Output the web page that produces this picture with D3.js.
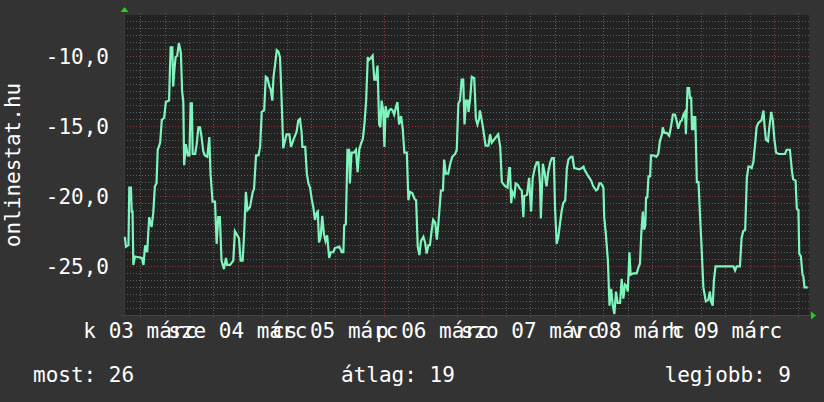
<!DOCTYPE html>
<meta charset="utf-8">

<head>
  <script src="https://d3js.org/d3.v7.min.js"></script>
  <style>
    body {
      margin: 0;
      background: #333333;
    }

    svg text {
      font-family: "DejaVu Sans Mono", monospace;
      font-size: 21px;
      fill: #ffffff;
    }
  </style>
</head>

<body>
  <script>

    // hours since 2009-03-03 00:00 and the rank (negative, best is on top)
    var hours = [
      8.2, 8.5, 9.1, 9.3, 9.7, 9.9, 10.1, 10.3, 10.7, 12.4, 12.8, 13.2, 13.7, 14.2, 14.8, 15.2, 15.6, 16.0, 16.3, 16.9,
      17.3, 17.9, 18.3, 19.1, 19.3, 19.5, 19.9, 20.1, 20.4, 20.7, 21.1, 21.5, 22.0, 22.3, 22.6, 22.8, 23.2, 23.7, 24.1, 24.4,
      24.7, 24.9, 25.5, 25.9, 26.3, 26.7, 27.1, 27.5, 27.9, 28.5, 29.0, 29.3, 29.8, 30.4, 30.8, 31.2, 31.6, 32.0, 32.6, 33.1,
      33.4, 34.1, 34.9, 35.3, 35.9, 36.3, 36.7, 37.2, 37.5, 38.0, 38.4, 39.0, 39.7, 40.0, 40.5, 41.1, 41.5, 41.9, 42.5, 42.9,
      43.3, 43.8, 44.1, 44.5, 44.8, 45.2, 45.6, 46.0, 46.4, 46.8, 47.2, 47.6, 48.0, 48.7, 49.1, 49.7, 50.5, 50.9, 51.3, 51.7,
      51.9, 52.6, 53.0, 53.4, 53.8, 54.2, 54.6, 55.0, 55.4, 55.7, 56.0, 56.4, 56.8, 57.2, 57.6, 58.0, 58.5, 58.9, 59.5, 59.9,
      61.0, 61.6, 62.0, 62.2, 62.6, 63.0, 63.4, 63.6, 64.0, 64.6, 65.1, 65.5, 65.9, 66.3, 66.8, 67.2, 67.6, 68.0, 68.3, 68.7,
      69.2, 69.6, 70.0, 70.4, 70.8, 71.1, 71.4, 71.8, 72.1, 72.4, 72.9, 73.3, 73.7, 74.1, 74.5, 74.9, 75.3, 75.7, 76.2, 76.6,
      77.0, 77.6, 78.0, 78.4, 79.0, 79.5, 79.9, 80.3, 80.7, 81.1, 81.7, 82.1, 82.5, 82.9, 83.3, 83.7, 84.1, 84.6, 85.0, 85.4,
      86.0, 86.5, 86.8, 87.2, 87.8, 88.3, 88.8, 89.5, 89.9, 90.3, 90.7, 91.1, 91.5, 91.8, 92.2, 92.6, 92.8, 93.2, 93.6, 94.2,
      94.4, 94.6, 95.0, 95.4, 95.6, 96.0, 96.4, 97.0, 97.7, 98.1, 98.5, 99.3, 100.1, 100.6, 101.0, 101.8, 102.4, 102.8, 103.0, 103.3,
      103.6, 104.1, 104.4, 104.9, 105.5, 105.9, 106.3, 106.5, 107.2, 107.7, 108.2, 108.6, 109.2, 109.6, 110.0, 110.4, 110.6, 111.1, 111.5, 112.0,
      112.4, 112.9, 113.3, 113.8, 114.1, 114.5, 114.9, 115.3, 115.7, 116.1, 116.6, 117.0, 117.4, 118.0, 118.4, 118.8, 120.1, 120.7, 121.1, 121.3,
      121.7, 122.3, 123.0, 123.5, 124.2, 124.6, 125.0, 125.4, 126.0, 126.2, 126.6, 127.1, 127.5, 127.9, 128.3, 128.7, 129.1, 129.5, 130.1, 130.5,
      130.9, 131.3, 131.7, 132.0, 132.4, 132.7, 133.4, 134.2, 134.6, 135.0, 135.3, 135.7, 136.0, 136.3, 136.5, 136.8, 137.1, 137.5, 137.7, 138.3,
      139.0, 139.5, 139.9, 140.4, 140.6, 141.0, 141.6, 142.2, 142.6, 143.1, 143.6, 144.0, 144.4, 144.9, 145.3, 145.7, 146.1, 146.3, 146.7, 147.1,
      147.3, 147.6, 147.8, 148.1, 148.4, 148.6, 149.0, 149.4, 149.8, 150.2, 150.6, 151.2, 151.8, 152.2, 152.5, 152.9, 153.2, 153.6, 158.0, 158.4,
      158.8, 159.6, 160.0, 160.4, 160.9, 161.3, 161.7, 162.1, 162.5, 162.9, 163.3, 163.7, 164.1, 164.5, 164.9, 165.4, 165.6, 166.0, 166.5, 166.8,
      167.3, 167.7, 168.1, 168.5, 169.1, 170.7, 171.1, 171.9, 172.4, 172.7, 173.3, 173.6, 174.0, 174.2, 174.6, 175.0, 175.2, 175.5, 176.3
    ];

    var rank = [
      -22.9, -23.6, -23.5, -19.4, -19.4, -21.1, -21.1, -24.9, -24.3, -24.4, -24.9, -23.5, -24.0, -21.5, -22.2, -21.2, -19.3, -19.1, -16.7, -16.2,
      -14.6, -14.4, -13.3, -13.2, -11.0, -9.4, -9.4, -12.2, -11.0, -10.1, -10.0, -9.1, -9.8, -12.5, -13.3, -17.8, -16.3, -17.1, -17.1, -13.4,
      -13.4, -17.0, -17.0, -16.3, -15.1, -15.1, -15.8, -16.8, -17.1, -17.2, -15.8, -18.4, -20.4, -20.4, -23.4, -21.5, -21.5, -24.6, -25.2, -24.4,
      -24.9, -24.9, -24.6, -22.5, -22.8, -23.0, -24.6, -24.6, -23.1, -19.7, -21.0, -20.8, -19.7, -19.5, -17.1, -17.1, -16.5, -14.0, -13.9, -11.5,
      -11.6, -12.2, -12.4, -13.2, -11.5, -10.6, -9.6, -9.7, -10.1, -13.2, -16.6, -16.1, -15.6, -15.6, -16.5, -16.0, -15.4, -14.6, -14.5, -15.4,
      -16.5, -16.5, -18.4, -19.1, -19.4, -20.2, -20.8, -21.7, -21.2, -21.1, -23.3, -22.9, -21.4, -22.7, -23.2, -22.8, -24.4, -24.0, -24.0, -23.7,
      -23.6, -24.0, -24.0, -22.1, -22.0, -16.7, -16.7, -19.1, -16.9, -16.9, -16.7, -18.3, -16.7, -16.3, -15.9, -14.8, -13.2, -10.1, -10.3, -10.2,
      -10.0, -11.7, -11.7, -10.7, -14.9, -15.1, -13.2, -13.9, -16.5, -13.6, -14.4, -13.9, -13.8, -13.9, -14.2, -13.7, -13.3, -14.9, -14.3, -15.2,
      -16.9, -16.9, -20.3, -19.7, -19.8, -20.2, -20.3, -23.6, -24.2, -23.2, -22.9, -23.3, -24.1, -23.5, -23.5, -22.5, -21.7, -21.9, -23.1, -21.9,
      -19.6, -19.6, -17.4, -18.4, -18.4, -17.7, -17.2, -17.0, -16.7, -13.4, -13.2, -11.7, -11.7, -14.9, -13.2, -13.2, -14.0, -13.1, -11.5, -11.6,
      -12.9, -14.5, -14.9, -14.5, -13.9, -14.5, -15.2, -16.4, -16.4, -15.6, -16.2, -15.9, -15.6, -16.5, -19.0, -19.3, -19.4, -18.0, -18.0, -20.5,
      -19.7, -20.0, -19.1, -19.2, -19.5, -19.6, -21.5, -20.0, -19.9, -18.7, -21.1, -18.7, -17.9, -17.6, -17.6, -19.1, -21.6, -17.7, -18.3, -19.3,
      -18.3, -17.6, -17.3, -17.3, -20.9, -23.4, -22.9, -22.0, -21.1, -20.5, -20.3, -18.0, -17.4, -17.2, -17.2, -18.0, -18.1, -18.0, -17.9, -18.1,
      -18.3, -18.6, -18.9, -19.3, -19.6, -19.5, -19.1, -19.1, -19.4, -21.5, -22.7, -24.6, -27.8, -26.6, -27.8, -28.4, -26.8, -27.6, -27.6, -25.9,
      -27.3, -26.3, -26.4, -26.8, -24.0, -25.6, -25.5, -25.5, -25.1, -24.8, -22.8, -21.1, -22.4, -22.1, -20.1, -20.1, -18.6, -18.6, -17.1, -17.1,
      -17.2, -17.0, -16.1, -15.6, -15.1, -15.5, -15.5, -15.7, -15.1, -14.2, -14.2, -14.6, -15.2, -14.7, -14.6, -14.2, -14.0, -15.6, -12.3, -12.3,
      -13.0, -13.0, -15.3, -14.3, -15.3, -14.3, -19.0, -19.0, -21.5, -23.9, -26.5, -27.5, -27.4, -26.8, -27.5, -27.8, -26.0, -25.0, -25.0, -25.3,
      -25.0, -25.0, -23.0, -22.5, -22.4, -18.7, -17.9, -17.9, -18.0, -17.6, -16.4, -15.1, -14.8, -14.7, -14.6, -13.9, -14.8, -16.0, -16.1, -15.2,
      -14.0, -14.6, -16.0, -16.9, -17.0, -17.0, -16.7, -16.7, -18.2, -18.8, -18.9, -20.9, -21.0, -24.1, -24.3, -25.6, -25.7, -26.5, -26.5
    ];

    var dayLabels = ["k 03 márc", "sze 04 márc", "cs 05 márc", "p 06 márc", "szo 07 márc", "v 08 márc", "h 09 márc"];
    var yTicks = [-10, -15, -20, -25];
    var yTickLabels = ["-10,0", "-15,0", "-20,0", "-25,0"];
    var legendNames = ["most", "átlag", "legjobb"];
    var legendValues = [26, 19, 9];
    var title = "onlinestat.hu";

    var W = 824, H = 402;
    var plot = { left: 124, right: 809, top: 15, bottom: 315 };

    var base = new Date(2009, 2, 3, 0, 0, 0);
    var at = function (h) {
      return new Date(base.getTime() + h * 3600 * 1000);
    };

    var x = d3.scaleTime()
      .domain([at(8), at(176.6)])
      .range([plot.left, plot.right]);

    var y = d3.scaleLinear()
      .domain([-28.47, -7.1])
      .range([plot.bottom, plot.top]);

    var svg = d3.select("body")
      .append("svg")
      .attr("width", W)
      .attr("height", H);

    svg.append("rect")
      .attr("width", W)
      .attr("height", H)
      .style("fill", "#333333");

    svg.append("rect")
      .attr("x", plot.left)
      .attr("y", plot.top)
      .attr("width", plot.right - plot.left)
      .attr("height", plot.bottom - plot.top)
      .style("fill", "#222222");

    // minor grid
    var minorY = d3.range(-28, -7.2, 0.5).filter(function (v) { return v % 5 != 0; });
    svg.selectAll(".minor-h")
      .data(minorY)
      .enter().append("line")
      .attr("x1", plot.left)
      .attr("x2", plot.right + 2)
      .attr("y1", function (d) { return Math.round(y(d)) + 0.5; })
      .attr("y2", function (d) { return Math.round(y(d)) + 0.5; })
      .style("stroke", "#5e5e5e")
      .style("stroke-dasharray", "1,2");

    var minorX = x.ticks(d3.timeHour.every(6)).filter(function (d) { return d.getHours() != 0; });
    svg.selectAll(".minor-v")
      .data(minorX)
      .enter().append("line")
      .attr("x1", function (d) { return Math.round(x(d)) + 0.5; })
      .attr("x2", function (d) { return Math.round(x(d)) + 0.5; })
      .attr("y1", plot.top - 2)
      .attr("y2", plot.bottom + 2)
      .style("stroke", "#5e5e5e")
      .style("stroke-dasharray", "1,2");

    // major grid
    svg.selectAll(".major-h")
      .data(yTicks)
      .enter().append("line")
      .attr("x1", plot.left)
      .attr("x2", plot.right + 2)
      .attr("y1", function (d) { return Math.round(y(d)) + 0.5; })
      .attr("y2", function (d) { return Math.round(y(d)) + 0.5; })
      .style("stroke", "#8a3a3a")
      .style("stroke-dasharray", "1,2");

    svg.selectAll(".major-v")
      .data(x.ticks(d3.timeDay.every(1)))
      .enter().append("line")
      .attr("x1", function (d) { return Math.round(x(d)) + 0.5; })
      .attr("x2", function (d) { return Math.round(x(d)) + 0.5; })
      .attr("y1", plot.top - 2)
      .attr("y2", plot.bottom + 3)
      .style("stroke", "#8a3a3a")
      .style("stroke-dasharray", "1,2");

    // axes lines
    svg.append("line")
      .attr("x1", plot.left - 3).attr("x2", plot.right + 3)
      .attr("y1", plot.bottom + 0.5).attr("y2", plot.bottom + 0.5)
      .style("stroke", "#444444");
    svg.append("line")
      .attr("x1", plot.left + 0.5).attr("x2", plot.left + 0.5)
      .attr("y1", plot.bottom + 3).attr("y2", plot.top - 3)
      .style("stroke", "#3a3a3a");

    // the series
    var points = hours.map(function (h, i) {
      return { t: at(h), v: rank[i] };
    });

    var line = d3.line()
      .x(function (d) { return x(d.t); })
      .y(function (d) { return y(d.v); });

    svg.append("path")
      .datum(points)
      .attr("d", line)
      .style("fill", "none")
      .style("stroke", "#7ff5bd")
      .style("stroke-width", 2.2)
      .style("stroke-linejoin", "miter");

    // arrows
    svg.append("path")
      .attr("d", "M" + (plot.left - 3.5) + "," + (plot.top - 3) + "L" + (plot.left + 4.5) + "," + (plot.top - 3) + "L" + (plot.left + 0.5) + "," + (plot.top - 8) + "Z")
      .style("fill", "#1ed21e");
    svg.append("path")
      .attr("d", "M" + (plot.right + 2) + "," + (plot.bottom - 3.5) + "L" + (plot.right + 2) + "," + (plot.bottom + 4.5) + "L" + (plot.right + 7) + "," + (plot.bottom + 0.5) + "Z")
      .style("fill", "#1ed21e");

    // y tick labels
    svg.selectAll(".ylab")
      .data(yTicks)
      .enter().append("text")
      .attr("x", 109)
      .attr("y", function (d) { return y(d) + 8; })
      .attr("text-anchor", "end")
      .text(function (d, i) { return yTickLabels[i]; });

    // x labels, centred on noon of each day
    svg.selectAll(".xlab")
      .data(dayLabels)
      .enter().append("text")
      .attr("x", function (d, i) { return x(at(i * 24 + 12)); })
      .attr("y", 338)
      .attr("text-anchor", "middle")
      .text(function (d) { return d; });

    svg.append("text")
      .attr("transform", "translate(20," + ((plot.top + plot.bottom) / 2) + ") rotate(-90)")
      .attr("text-anchor", "middle")
      .text(title);

    // legend
    var legendX = [33, 341, 791];
    var legendAnchor = ["start", "start", "end"];
    legendNames.forEach(function (n, i) {
      svg.append("text")
        .attr("x", legendX[i])
        .attr("y", 382)
        .attr("text-anchor", legendAnchor[i])
        .style("white-space", "pre")
        .text(n + ": " + legendValues[i]);
    });

  </script>
</body>

</html>
